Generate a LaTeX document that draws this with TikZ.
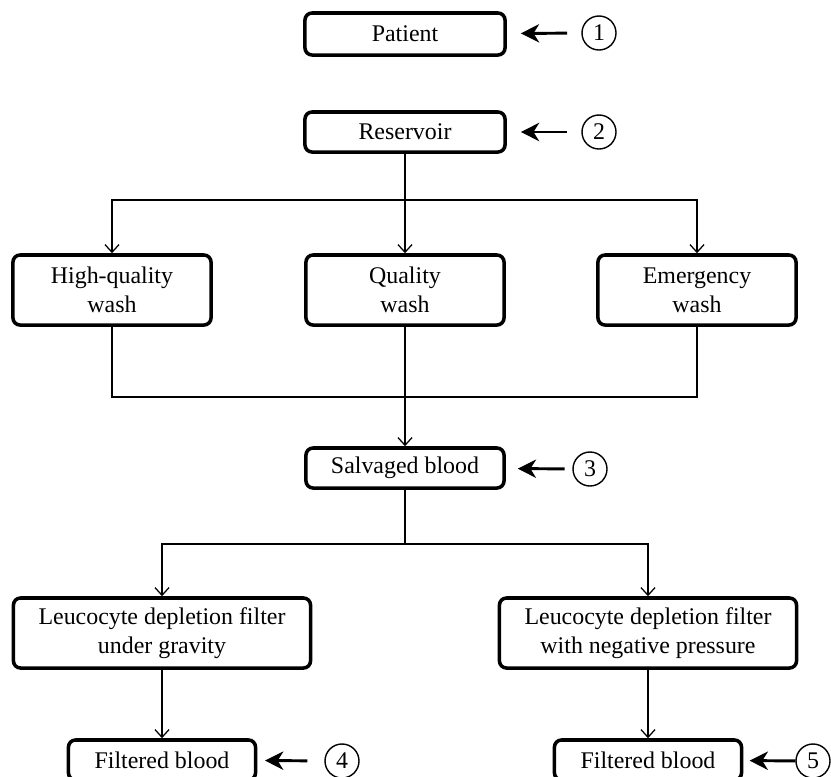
\documentclass[tikz,border=0pt]{standalone}
\usepackage{fontspec}
\setmainfont{Liberation Serif}
\usetikzlibrary{arrows.meta}

\tikzset{
  box/.style={rectangle, draw, line width=2.5pt, rounded corners=5pt, inner sep=0pt, align=center, font=\fontsize{17}{20.5}\selectfont},
  numcircle/.style={circle, draw, line width=1pt, minimum size=0.85cm, inner sep=0pt, font=\fontsize{17}{20.5}\selectfont},
  link/.style={line width=0.9pt},
  flow/.style={line width=0.9pt, -{Straight Barb[length=5.5pt, width=10pt, line width=0.9pt]}},
  pointer/.style={line width=2.1pt, -{Stealth[length=13pt, width=13pt, inset=4pt]}}
}

\begin{document}
\begin{tikzpicture}[x=0.025cm, y=-0.025cm]
    \useasboundingbox (0,0) rectangle (831,777);

    % Main boxes
    \node[box, minimum width=5cm, minimum height=1.05cm] (patient) at (405,34) {Patient};
    \node[box, minimum width=5cm, minimum height=1cm] (reservoir) at (405,132) {Reservoir};

    % Washing modes
    \node[box, minimum width=4.95cm, minimum height=1.75cm] (hqwash) at (112,290) {High-quality\\wash};
    \node[box, minimum width=4.95cm, minimum height=1.75cm] (qwash) at (405,290) {Quality\\wash};
    \node[box, minimum width=4.95cm, minimum height=1.75cm] (ewash) at (697,290) {Emergency\\wash};

    \node[box, minimum width=4.95cm, minimum height=1cm] (salvaged) at (405,468) {Salvaged blood};

    % Filters
    \node[box, minimum width=7.425cm, minimum height=1.75cm] (filtergrav) at (162,633) {Leucocyte depletion filter\\under gravity};
    \node[box, minimum width=7.425cm, minimum height=1.75cm] (filterneg) at (648,633) {Leucocyte depletion filter\\with negative pressure};

    \node[box, minimum width=4.675cm, minimum height=1cm] (filtered1) at (162,760) {Filtered blood};
    \node[box, minimum width=4.675cm, minimum height=1cm] (filtered2) at (648,760) {Filtered blood};

    % Numbered markers
    \node[numcircle] (m1) at (599,33) {1};
    \node[numcircle] (m2) at (599,132) {2};
    \node[numcircle] (m3) at (590,469) {3};
    \node[numcircle] (m4) at (342,761) {4};
    \node[numcircle] (m5) at (813,761) {5};

    % Junction points
    \coordinate (split1) at (405,200);
    \coordinate (merge) at (405,397);
    \coordinate (split2) at (405,544);

    % Connections
    \draw[flow] (reservoir) -- (qwash);
    \draw[flow] (split1) -| (hqwash.north);
    \draw[flow] (split1) -| (ewash.north);
    \draw[link] (hqwash.south) |- (merge);
    \draw[link] (ewash.south) |- (merge);
    \draw[flow] (qwash) -- (salvaged);
    \draw[link] (salvaged) -- (split2);
    \draw[flow] (split2) -| (filtergrav.north);
    \draw[flow] (split2) -| (filterneg.north);
    \draw[flow] (filtergrav) -- (filtered1);
    \draw[flow] (filterneg) -- (filtered2);

    % Marker arrows
    \draw[pointer, shorten <=10pt, shorten >=10pt] (m1) -- (patient);
    \draw[pointer, shorten <=10pt, shorten >=10pt] (m2) -- (reservoir);
    \draw[pointer, shorten <=5.5pt, shorten >=8.5pt] (m3) -- (salvaged);
    \draw[pointer, shorten <=12pt, shorten >=5.5pt] (m4) -- (filtered1);
    \draw[pointer, shorten >=4.5pt] (m5) -- (filtered2);
\end{tikzpicture}
\end{document}
